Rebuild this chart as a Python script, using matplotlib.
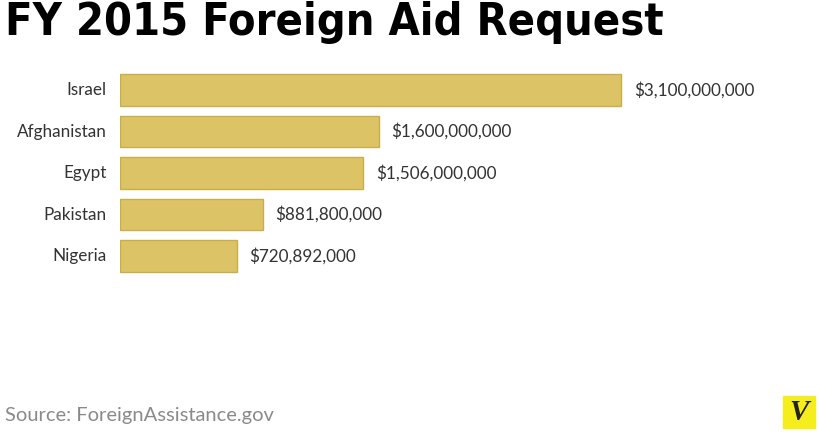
import matplotlib.pyplot as plt
from matplotlib.patches import Rectangle

countries = ["Israel", "Afghanistan", "Egypt", "Pakistan", "Nigeria"]
amounts = [3100000000, 1600000000, 1506000000, 881800000, 720892000]
value_labels = ["$3,100,000,000", "$1,600,000,000", "$1,506,000,000",
                "$881,800,000", "$720,892,000"]

W, H = 820, 432
fig = plt.figure(figsize=(W / 100, H / 100), dpi=100)

# axes in pixel terms: x 120..820, y 60..290 from top
ax = fig.add_axes([120 / W, 1 - 290 / H, 700 / W, 230 / H])
ax.barh(range(len(countries)), amounts, height=0.75, color="#dcc466",
        edgecolor="#c8ad4c", linewidth=1)
ax.set_xlim(0, 3100000000 * 700 / 501)
ax.set_ylim(4 + 34 / 41.5, -30 / 41.5)
ax.axis("off")

for i, (c, v, lab) in enumerate(zip(countries, amounts, value_labels)):
    ax.text(-13 / 501 * 3100000000, i, c, ha="right", va="center",
            fontsize=12.3, color="#333333", family="Lato")
    ax.text(v + 13 / 501 * 3100000000, i, lab, ha="left", va="center",
            fontsize=12.3, color="#333333", family="Lato")

fig.text(5 / W, 1 - 23 / H, "FY 2015 Foreign Aid Request", ha="left",
         va="center", fontsize=32.3, fontweight="bold", color="black",
         family="DejaVu Sans", fontstretch="condensed")
fig.text(5 / W, 1 - 415 / H, "Source: ForeignAssistance.gov", ha="left",
         va="center", fontsize=14.5, color="#8a8a8a", family="Lato")

# Vox logo
fig.patches.append(Rectangle((783 / W, 1 - 428 / H), 32 / W, 32 / H,
                             transform=fig.transFigure, color="#f5ee1c"))
fig.text(799 / W, 1 - 412 / H, "V", ha="center", va="center", fontsize=21,
         fontweight="bold", fontstyle="italic", color="#222222",
         family="Liberation Serif")

fig.savefig("out.png", dpi=100, facecolor="white")
